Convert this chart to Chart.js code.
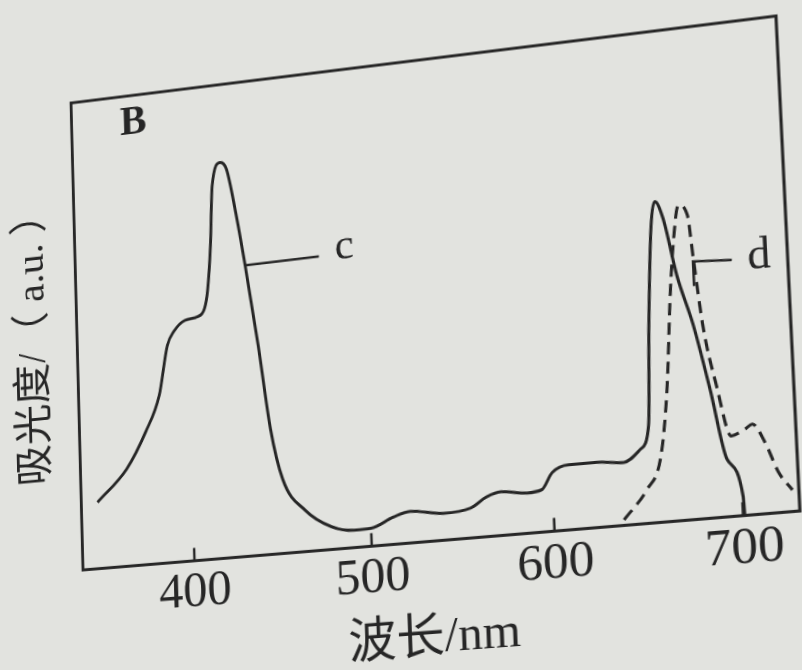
<!DOCTYPE html>
<html>
<head>
<meta charset="utf-8">
<script src="https://cdn.jsdelivr.net/npm/chart.js@4.4.1/dist/chart.umd.min.js"></script>
<style>
  html, body { margin: 0; padding: 0; background: #e2e3df; overflow: hidden; }
  #wrap { position: absolute; left: 0; top: 0; width: 802px; height: 670px; transform-origin: 0 0; }
</style>
</head>
<body>
<div id="wrap"><canvas id="myChart" width="802" height="670"></canvas></div>
<script>
// curve c (solid line)
const cWave = [345, 362.5, 374, 382.5, 388, 392, 398.5, 406, 410, 412, 414.5, 416.5, 421.5, 425, 429.5, 434, 440, 445.5, 451.5,
               463.5, 478, 490.5, 500, 512.5, 522, 540, 555, 564, 572, 586, 594, 600, 609, 624, 638.5,
               647.5, 652.5, 655, 658.5, 661, 665, 671, 678.5, 686, 693, 700.5, 700.9];
const cAbs  = [0.140, 0.205, 0.279, 0.354, 0.458, 0.486, 0.507, 0.512, 0.528, 0.563, 0.660, 0.786, 0.834, 0.818, 0.725, 0.610, 0.439, 0.261, 0.154,
               0.086, 0.047, 0.036, 0.037, 0.056, 0.065, 0.055, 0.061, 0.081, 0.089, 0.082, 0.086, 0.119, 0.132, 0.132, 0.127,
               0.150, 0.196, 0.399, 0.602, 0.650, 0.614, 0.495, 0.391, 0.254, 0.115, 0.038, 0.0];

// curve d (dashed line)
const dWave = [637.4, 650.2, 658, 663, 667.2, 670, 673.5, 678, 680.1, 683.5, 689.2, 695.7, 703, 707, 713.2, 719.5, 726.2];
const dAbs  = [0.011, 0.068, 0.127, 0.262, 0.464, 0.565, 0.637, 0.615, 0.526, 0.389, 0.265, 0.161, 0.172, 0.181, 0.142, 0.080, 0.043];

const xTicks = [400, 500, 600, 700];
const xMin = 335.5, xMax = 729.5;

const ink = '#262626';
const serif = '"Liberation Serif", "Noto Sans CJK SC", serif';

const toPoints = (xs, ys) => xs.map((x, i) => ({ x: x, y: ys[i] }));

// frame, inner ticks, labels c / d / B
const extras = {
  id: 'extras',
  afterDatasetsDraw(chart) {
    const ctx = chart.ctx;
    const a = chart.chartArea;
    const sx = chart.scales.x, sy = chart.scales.y;
    const px = v => sx.getPixelForValue(v), py = v => sy.getPixelForValue(v);
    ctx.save();
    ctx.strokeStyle = ink;
    ctx.lineWidth = 3;
    ctx.strokeRect(a.left, a.top, a.right - a.left, a.bottom - a.top);
    ctx.lineWidth = 2.5;
    xTicks.forEach(v => {
      ctx.beginPath();
      ctx.moveTo(px(v), a.bottom);
      ctx.lineTo(px(v), a.bottom - 13);
      ctx.stroke();
    });
    // leader for c
    ctx.beginPath();
    ctx.moveTo(px(434), py(0.61));
    ctx.lineTo(px(476), py(0.612));
    ctx.stroke();
    // leader for d
    ctx.beginPath();
    ctx.moveTo(px(679.9), py(0.47));
    ctx.lineTo(px(679.9), py(0.52));
    ctx.lineTo(px(700.3), py(0.515));
    ctx.stroke();
    ctx.fillStyle = ink;
    ctx.textBaseline = 'middle';
    ctx.textAlign = 'left';
    ctx.font = '44px ' + serif;
    ctx.fillText('c', px(485), py(0.625));
    ctx.fillText('d', px(708.5), py(0.515));
    ctx.font = 'bold 42px ' + serif;
    ctx.fillText('B', px(364), py(0.94));
    ctx.restore();
  }
};

const myChart = new Chart('myChart', {
  type: 'line',
  data: {
    datasets: [
      {
        label: 'c',
        data: toPoints(cWave, cAbs),
        borderColor: ink,
        borderWidth: 3,
        pointRadius: 0,
        cubicInterpolationMode: 'monotone'
      },
      {
        label: 'd',
        data: toPoints(dWave, dAbs),
        borderColor: ink,
        borderWidth: 3,
        borderDash: [12, 7],
        pointRadius: 0,
        cubicInterpolationMode: 'monotone'
      }
    ]
  },
  options: {
    responsive: false,
    animation: false,
    devicePixelRatio: 1,
    layout: { padding: { left: 4, right: 15, top: 40, bottom: 20 } },
    plugins: { legend: { display: false }, tooltip: { enabled: false } },
    scales: {
      x: {
        type: 'linear',
        min: xMin,
        max: xMax,
        afterBuildTicks: s => { s.ticks = xTicks.map(v => ({ value: v })); },
        grid: { display: false },
        border: { display: false },
        ticks: { color: ink, padding: -6, font: { family: serif, size: 50 } },
        title: { display: true, text: '波长/nm', color: ink, padding: { top: 12, bottom: 0 }, font: { family: serif, size: 48 } }
      },
      y: {
        min: 0,
        max: 1,
        grid: { display: false },
        border: { display: false },
        ticks: { display: false },
        title: { display: true, text: '吸光度/（ a.u. ）', color: ink, padding: { top: 0, bottom: 12 }, font: { family: serif, size: 42 } }
      }
    }
  },
  plugins: [extras]
});

// photo of the page is tilted: map the plot rectangle onto the frame seen in the picture
function solve(A, b) {
  const n = b.length;
  for (let i = 0; i < n; i++) {
    let p = i;
    for (let k = i + 1; k < n; k++) if (Math.abs(A[k][i]) > Math.abs(A[p][i])) p = k;
    [A[i], A[p]] = [A[p], A[i]];
    [b[i], b[p]] = [b[p], b[i]];
    for (let k = i + 1; k < n; k++) {
      const f = A[k][i] / A[i][i];
      for (let j = i; j < n; j++) A[k][j] -= f * A[i][j];
      b[k] -= f * b[i];
    }
  }
  const x = new Array(n);
  for (let i = n - 1; i >= 0; i--) {
    let s = b[i];
    for (let j = i + 1; j < n; j++) s -= A[i][j] * x[j];
    x[i] = s / A[i][i];
  }
  return x;
}

function warp(chart) {
  const a = chart.chartArea;
  const src = [[a.left, a.top], [a.right, a.top], [a.right, a.bottom], [a.left, a.bottom]];
  const dst = [[71, 103], [776, 16], [800, 511], [83, 570]];
  const A = [], b = [];
  for (let i = 0; i < 4; i++) {
    const [x, y] = src[i], [u, v] = dst[i];
    A.push([x, y, 1, 0, 0, 0, -x * u, -y * u]); b.push(u);
    A.push([0, 0, 0, x, y, 1, -x * v, -y * v]); b.push(v);
  }
  const h = solve(A, b);
  document.getElementById('wrap').style.transform =
    'matrix3d(' + [h[0], h[3], 0, h[6], h[1], h[4], 0, h[7], 0, 0, 1, 0, h[2], h[5], 0, 1].join(',') + ')';
}
warp(myChart);
</script>
</body>
</html>
